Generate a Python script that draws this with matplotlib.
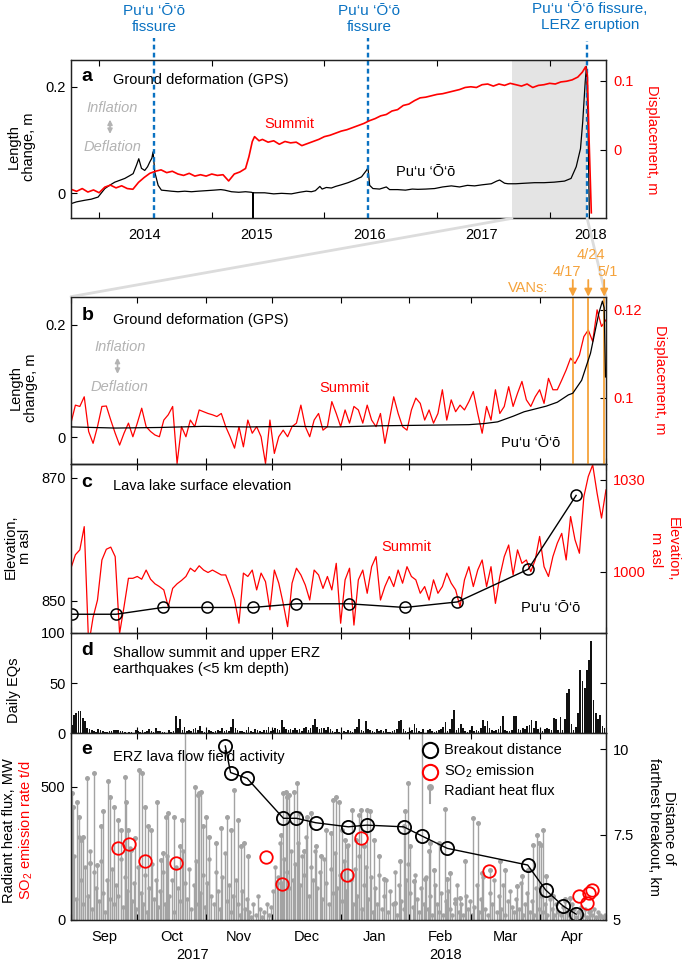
import matplotlib
matplotlib.use('Agg')
import matplotlib.pyplot as plt
from matplotlib.patches import ConnectionPatch

plt.rcParams['font.family'] = ['Liberation Sans', 'DejaVu Sans']
plt.rcParams['mathtext.fontset'] = 'custom'
plt.rcParams['mathtext.rm'] = 'Liberation Sans'
plt.rcParams['mathtext.it'] = 'Liberation Sans:italic'
plt.rcParams['font.size'] = 10.5

PUU = 'Pu\u2018u \u2018\u014c\u2018\u014d'

# ---- panel a: GPS, decimal years ----
a_puu_year = [2013.749, 2013.80, 2013.873, 2013.93, 2013.991, 2014.051, 2014.10, 2014.139, 2014.19, 2014.228,
              2014.27, 2014.302, 2014.332, 2014.352, 2014.376, 2014.405, 2014.43, 2014.450, 2014.468, 2014.479,
              2014.494, 2014.524, 2014.553, 2014.60, 2014.642, 2014.70, 2014.76, 2014.82, 2014.878, 2014.95,
              2015.02, 2015.08, 2015.115, 2015.175, 2015.24, 2015.30, 2015.352, 2015.365, 2015.367, 2015.369,
              2015.40, 2015.47, 2015.55, 2015.62, 2015.707, 2015.78, 2015.84, 2015.885, 2015.92, 2015.96,
              2015.98, 2016.017, 2016.062, 2016.10, 2016.15, 2016.21, 2016.27, 2016.33, 2016.373, 2016.387,
              2016.402, 2016.431, 2016.49, 2016.55, 2016.579, 2016.65, 2016.72, 2016.78, 2016.83, 2016.90,
              2016.979, 2017.05, 2017.127, 2017.20, 2017.27, 2017.334, 2017.40, 2017.482, 2017.53, 2017.556,
              2017.60, 2017.63, 2017.70, 2017.78, 2017.866, 2017.95, 2018.04, 2018.132, 2018.19, 2018.236,
              2018.274, 2018.294, 2018.316, 2018.327, 2018.339, 2018.354]
a_puu_m = [-0.0195, -0.016, -0.013, -0.011, -0.007, 0.009, 0.016, 0.021, 0.025, 0.028,
           0.033, 0.037, 0.053, 0.065, 0.047, 0.043, 0.050, 0.059, 0.066, 0.078,
           0.040, 0.015, 0.006, 0.005, 0.004, 0.003, 0.004, 0.003, 0.004, 0.005,
           0.006, 0.007, 0.006, 0.003, 0.002, 0.003, 0.002, 0.001, -0.055, 0.001,
           0.001, 0.001, -0.001, 0.000, -0.001, 0.002, 0.004, 0.003, 0.005, 0.013,
           0.008, 0.011, 0.010, 0.013, 0.016, 0.020, 0.025, 0.031, 0.043, 0.048,
           0.015, 0.009, 0.008, 0.012, 0.007, 0.007, 0.006, 0.008, 0.0075, 0.008,
           0.009, 0.012, 0.014, 0.012, 0.015, 0.014, 0.016, 0.018, 0.023, 0.025,
           0.019, 0.018, 0.018, 0.019, 0.020, 0.020, 0.021, 0.023, 0.028, 0.050,
           0.084, 0.135, 0.210, 0.238, 0.147, -0.060]

a_sum_year = [2013.75, 2013.80, 2013.85, 2013.90, 2013.95, 2014.00, 2014.05, 2014.10, 2014.15, 2014.20,
              2014.25, 2014.30, 2014.35, 2014.40, 2014.45, 2014.50, 2014.55, 2014.60, 2014.65, 2014.70,
              2014.75, 2014.80, 2014.85, 2014.90, 2014.95, 2015.00, 2015.05, 2015.10, 2015.15, 2015.20,
              2015.25, 2015.30, 2015.33, 2015.36, 2015.38, 2015.42, 2015.45, 2015.50, 2015.55, 2015.60,
              2015.65, 2015.70, 2015.75, 2015.80, 2015.85, 2015.90, 2015.95, 2016.00, 2016.05, 2016.10,
              2016.15, 2016.20, 2016.25, 2016.30, 2016.35, 2016.40, 2016.45, 2016.50, 2016.55, 2016.60,
              2016.65, 2016.70, 2016.75, 2016.80, 2016.85, 2016.90, 2016.95, 2017.00, 2017.05, 2017.10,
              2017.15, 2017.20, 2017.25, 2017.30, 2017.35, 2017.40, 2017.45, 2017.50, 2017.55, 2017.60,
              2017.65, 2017.70, 2017.75, 2017.80, 2017.85, 2017.90, 2017.95, 2018.00, 2018.05, 2018.10,
              2018.15, 2018.20, 2018.25, 2018.29, 2018.32, 2018.335, 2018.35, 2018.37]
a_sum_m = [-0.057, -0.060, -0.056, -0.061, -0.058, -0.062, -0.054, -0.051, -0.055, -0.052,
           -0.056, -0.057, -0.047, -0.040, -0.034, -0.031, -0.029, -0.033, -0.031, -0.035,
           -0.037, -0.034, -0.038, -0.036, -0.038, -0.035, -0.037, -0.036, -0.045, -0.035,
           -0.032, -0.027, -0.010, 0.012, 0.019, 0.013, 0.015, 0.011, 0.013, 0.008,
           0.012, 0.010, 0.011, 0.006, 0.009, 0.012, 0.015, 0.019, 0.021, 0.024,
           0.027, 0.029, 0.032, 0.035, 0.038, 0.042, 0.045, 0.049, 0.051, 0.056,
           0.058, 0.064, 0.066, 0.071, 0.075, 0.076, 0.078, 0.080, 0.081, 0.083,
           0.085, 0.087, 0.090, 0.091, 0.090, 0.094, 0.095, 0.092, 0.095, 0.093,
           0.096, 0.094, 0.092, 0.095, 0.090, 0.093, 0.094, 0.096, 0.095, 0.098,
           0.099, 0.101, 0.105, 0.112, 0.120, 0.108, 0.016, -0.091]

fissure_year = [2014.485, 2016.385, 2018.333]
fissure_text = [PUU + '\nfissure', PUU + '\nfissure', PUU + ' fissure,\nLERZ eruption']
year_ticks = [2014, 2015, 2016, 2017, 2018]
year_label_pos = [2014.4, 2015.4, 2016.4, 2017.4, 2018.36]
zoom_span = [2017.666, 2018.333]

# ---- panels b-e: days since 1 Sep 2017 ----
month_edges = [0, 30, 61, 91, 122, 153, 181, 212, 242]
month_mid = [15, 45.5, 76, 106.5, 137.5, 167, 196.5, 227]
month_names = ['Sep', 'Oct', 'Nov', 'Dec', 'Jan', 'Feb', 'Mar', 'Apr']
van_day = [227, 234, 241.2]
van_text = ['4/17', '4/24', '5/1']

b_puu_day = [0, 20, 40, 60, 80, 100, 120, 140, 160, 180, 187, 193, 200, 205, 210, 215, 220, 225, 227, 231,
             235, 238.8, 240.4, 241.2, 241.8]
b_puu_m = [0.018, 0.016, 0.017, 0.019, 0.018, 0.019, 0.018, 0.020, 0.021, 0.022, 0.024, 0.027, 0.037, 0.045,
           0.050, 0.055, 0.062, 0.075, 0.078, 0.101, 0.149, 0.221, 0.242, 0.230, 0.107]
b_sum_m = [0.0942, 0.0983, 0.0980, 0.1002, 0.0923, 0.0896, 0.0934, 0.0980, 0.0981, 0.0949,
           0.0919, 0.0892, 0.0919, 0.0942, 0.0911, 0.0942, 0.0976, 0.0934, 0.0923, 0.0915,
           0.0911, 0.0949, 0.0961, 0.0980, 0.0850, 0.0934, 0.0911, 0.0949, 0.0934, 0.0972,
           0.0968, 0.0964, 0.0961, 0.0957, 0.0964, 0.0934, 0.0911, 0.0885, 0.0934, 0.0888,
           0.0949, 0.0919, 0.0934, 0.0911, 0.0850, 0.0949, 0.0873, 0.0911, 0.0926, 0.0911,
           0.0934, 0.0942, 0.0983, 0.0934, 0.0911, 0.0949, 0.0964, 0.0926, 0.0934, 0.0991,
           0.0964, 0.0934, 0.0972, 0.0942, 0.0980, 0.0972, 0.0942, 0.0983, 0.0949, 0.0934,
           0.0964, 0.0896, 0.0949, 0.1002, 0.0964, 0.0934, 0.0926, 0.0972, 0.0999, 0.0987,
           0.0949, 0.0972, 0.0942, 0.0964, 0.1018, 0.0949, 0.0995, 0.0968, 0.0983, 0.0972,
           0.0991, 0.1014, 0.0964, 0.0919, 0.0980, 0.0949, 0.1018, 0.0964, 0.0980, 0.1025,
           0.0980, 0.1010, 0.1037, 0.0995, 0.0980, 0.1002, 0.1018, 0.0987, 0.1044, 0.1018,
           0.1018, 0.1040, 0.1063, 0.1090, 0.1078, 0.1097, 0.1139, 0.1154, 0.1128, 0.1200,
           0.1162, 0.1177]

c_puu_day = [0.6, 20.4, 41.5, 61.5, 82.2, 102, 125.7, 151, 174.8, 206.8, 228.5]
c_puu_m = [847.8, 847.8, 848.9, 848.9, 848.9, 849.5, 849.5, 848.9, 849.8, 855.1, 867.1]
c_sum_m = [1001.1, 1005.5, 1007.1, 1014.7, 976.0, 985.0, 990.7, 1003.8, 1007.3, 1008.0,
           1004.9, 979.8, 988.5, 997.8, 997.8, 998.4, 997.5, 1000.5, 997.5, 996.0,
           995.1, 994.0, 988.5, 994.5, 996.0, 997.1, 998.4, 1001.1, 1000.0, 1001.9,
           1000.5, 999.7, 1000.5, 999.7, 998.9, 998.9, 995.1, 990.7, 983.1, 999.5,
           998.4, 1000.5, 994.0, 999.5, 996.7, 987.5, 1000.5, 996.2, 989.6, 982.0,
           996.2, 1001.1, 998.9, 995.6, 990.7, 1000.5, 998.9, 994.5, 998.4, 994.0,
           1002.7, 983.1, 997.3, 1001.1, 982.5, 997.3, 1000.5, 992.9, 1001.6, 1004.9,
           990.7, 995.1, 998.4, 995.1, 1000.5, 996.2, 1001.6, 998.4, 997.3, 992.9,
           995.1, 990.7, 997.3, 992.9, 995.1, 999.5, 996.2, 994.0, 988.5, 997.3,
           1001.6, 995.1, 1000.5, 1003.8, 995.1, 1001.6, 989.6, 998.4, 1004.9, 1008.7,
           998.9, 1007.1, 1002.7, 1003.8, 1000.0, 1003.8, 1011.5, 1001.6, 998.4, 1004.9,
           1009.3, 1012.5, 1003.8, 1018.0, 1010.4, 1006.0, 1024.5, 1031.1, 1034.9, 1025.6,
           1017.5, 1026.7]

daily_eq = [8, 18, 20, 22, 22, 15, 12, 5, 4, 3, 2, 1, 4, 3, 2, 1, 1, 2, 2, 3,
            3, 3, 2, 2, 1, 0, 1, 1, 0, 3, 2, 1, 3, 1, 2, 4, 2, 1, 5, 2,
            2, 1, 1, 0, 3, 1, 2, 17, 5, 14, 3, 6, 2, 3, 2, 4, 5, 3, 7, 2,
            1, 0, 3, 2, 1, 2, 3, 2, 5, 2, 3, 2, 6, 14, 5, 3, 2, 2, 1, 3,
            6, 2, 1, 4, 3, 2, 1, 3, 3, 6, 2, 3, 5, 4, 3, 13, 6, 4, 3, 4,
            3, 5, 3, 4, 2, 5, 6, 3, 5, 8, 14, 6, 4, 5, 5, 3, 6, 4, 2, 1,
            4, 1, 3, 2, 1, 3, 2, 1, 4, 6, 14, 3, 2, 12, 4, 3, 2, 1, 4, 2,
            3, 2, 4, 1, 1, 2, 3, 4, 12, 13, 4, 2, 1, 2, 3, 9, 5, 2, 1, 4,
            0, 3, 4, 2, 1, 2, 3, 4, 6, 11, 2, 4, 14, 23, 3, 5, 9, 5, 2, 1,
            3, 7, 2, 3, 2, 5, 13, 7, 12, 5, 3, 2, 3, 4, 7, 17, 3, 2, 2, 3,
            17, 17, 4, 3, 5, 4, 7, 8, 13, 5, 12, 4, 3, 2, 4, 5, 4, 3, 15, 14,
            3, 16, 3, 14, 40, 44, 9, 3, 6, 20, 63, 52, 45, 63, 73, 92, 33, 20, 14, 18,
            7, 5]

heat_daily_mw = [120, 240, 80, 310, 150, 60, 200, 90, 260, 40, 180, 120, 70, 220, 100, 30, 150, 80, 190, 60,
                 130, 90, 230, 50, 160, 110, 270, 70, 140, 40, 200, 100, 60, 170, 30, 120, 210, 80, 150, 50,
                 110, 180, 60, 240, 90, 150, 30, 200, 120, 70, 260, 140, 80, 190, 40, 130, 220, 60, 100, 170,
                 50, 140, 230, 90, 60, 180, 110, 40, 160, 250, 70, 130, 30, 90, 150, 60, 20, 110, 40, 80,
                 30, 10, 60, 20, 90, 40, 10, 30, 60, 20, 50, 110, 200, 160, 290, 140, 230, 180, 120, 260,
                 150, 210, 290, 130, 240, 170, 310, 90, 200, 150, 260, 120, 180, 80, 230, 140, 60, 190, 100, 250,
                 120, 170, 70, 220, 110, 280, 150, 60, 190, 90, 240, 40, 130, 200, 80, 160, 30, 120, 60, 170,
                 40, 90, 150, 30, 110, 60, 180, 20, 130, 70, 40, 150, 210, 100, 50, 170, 80, 30, 120, 60,
                 160, 40, 90, 20, 130, 60, 30, 100, 20, 70, 110, 40, 20, 80, 130, 30, 60, 20, 90, 40,
                 70, 20, 50, 130, 30, 80, 160, 40, 20, 100, 60, 150, 30, 90, 40, 130, 20, 70, 110, 50,
                 30, 80, 40, 140, 20, 60, 100, 30, 70, 20, 120, 40, 90, 30, 60, 20, 80, 40, 20, 60,
                 30, 20, 50, 70, 30, 20, 60, 40, 10, 30, 50, 20, 40, 10, 30, 20, 40, 10, 30, 20,
                 10, 20]
heat_peak_day = [0.3, 1.1, 2.6, 3.6, 4.5, 5.6, 7.2, 8.6, 10.4, 11.9, 13.8, 14.6, 16.8, 17.6, 19.5, 21.3,
                 22.8, 24.3, 25.1, 25.8, 27.3, 28.8, 30.6, 32.1, 33.3, 34.8, 36.3, 39.0, 40.8, 41.6, 43.1,
                 43.8, 46.8, 49.1, 50.2, 51.4, 55.9, 57.4, 58.1, 58.9, 59.6, 61.1, 62.6, 65.6, 67.9, 70.4,
                 72.4, 73.9, 75.4, 76.9, 78.4, 80.2, 93.4, 94.9, 96.1, 97.1, 97.9, 98.6, 100.9, 102.4, 103.2,
                 105.4, 106.9, 108.4, 110.7, 112.9, 115.2, 117.4, 118.6, 119.7, 121.2, 122.7, 124.0, 125.0,
                 127.3, 128.8, 130.3, 131.0, 132.5, 134.0, 135.2, 137.0, 139.3, 141.5, 146.8, 149.0, 150.5,
                 151.3, 152.3, 153.5, 155.0, 158.8, 160.3, 161.8, 162.5, 164.0, 166.3, 169.0, 170.0, 171.6,
                 173.8, 176.0, 178.3, 181.8, 184.3, 185.8, 189.6, 194.0, 196.3, 201.6, 203.8, 206.8, 209.0,
                 210.9, 211.8, 212.8, 213.6, 215.1, 218.1, 223.4, 225.9, 230.1, 234.6, 239.1]
heat_peak_mw = [475, 423, 444, 388, 301, 313, 531, 214, 552, 208, 351, 407, 522, 463, 423, 376,
                338, 537, 444, 338, 264, 307, 562, 552, 425, 351, 338, 444, 226, 251, 388,
                400, 388, 276, 376, 760, 500, 469, 475, 481, 351, 388, 313, 289, 345, 388,
                338, 487, 376, 276, 289, 239, 139, 320, 475, 481, 463, 469, 481, 512, 400,
                257, 388, 400, 276, 239, 338, 326, 450, 463, 444, 338, 301, 276,
                413, 301, 394, 413, 276, 413, 407, 301, 239, 152, 65, 220, 351,
                407, 512, 276, 146, 760, 152, 257, 289, 189, 289, 415, 152, 177,
                65, 83, 220, 382, 363, 177, 189, 220, 189, 127, 164, 189, 282,
                320, 289, 282, 338, 164, 90, 77, 83, 34, 34, 15]
so2_day = [21.4, 26.3, 33.6, 47.5, 88.2, 95.5, 124.8, 131.1, 189, 230, 233.5, 234.5, 235.8]
so2_td = [269, 285, 222, 215, 237, 135, 169, 306, 184, 90, 65, 102, 112]
breakout_day = [69.8, 72.2, 79.7, 96.1, 102, 110.7, 125.5, 133.7, 150.5, 158.8, 170.2, 206.6, 214.7, 222.6, 228.5]
breakout_km = [10.10, 9.32, 9.15, 7.98, 7.98, 7.85, 7.73, 7.78, 7.73, 7.46, 7.10, 6.61, 5.88, 5.41, 5.17]

RED = 'red'
BLUE = '#0a72c2'
ORANGE = '#f5a23a'
LGRAY = '#b3b3b3'
HGRAY = '#a3a3a3'


def style(ax, right=True):
    ax.tick_params(direction='in', top=True, right=right, length=4, width=0.8, labelsize=10.5)
    ax.tick_params(axis='y', pad=4)
    for s in ax.spines.values():
        s.set_linewidth(0.9)
        s.set_color('#222222')


def month_axis(ax, labels=False):
    ax.set_xlim(0, 242)
    ax.set_xticks(month_edges)
    ax.set_xticklabels([])
    if labels:
        ax.set_xticks(month_mid, minor=True)
        ax.set_xticklabels(month_names, minor=True)
        ax.tick_params(axis='x', which='minor', length=0, pad=7, labelsize=10.5)


def infl_defl(ax, x, y_inf, y_arrow_top, y_arrow_bot, y_def):
    ax.text(x, y_inf, 'Inflation', transform=ax.transAxes, ha='center', va='center',
            style='italic', color=LGRAY, fontsize=10.5)
    ax.annotate('', xy=(x - 0.004, y_arrow_top), xytext=(x - 0.004, y_arrow_bot), xycoords='axes fraction',
                arrowprops=dict(arrowstyle='<|-|>', color=LGRAY, lw=1.2, mutation_scale=7))
    ax.text(x, y_def, 'Deflation', transform=ax.transAxes, ha='center', va='center',
            style='italic', color=LGRAY, fontsize=10.5)


fig = plt.figure(figsize=(6.85, 9.61), dpi=100)
L, W = 0.1036, 0.781
ax_a = fig.add_axes([L, 0.7728, W, 0.165])
ax_b = fig.add_axes([L, 0.5172, W, 0.1741])
ax_c = fig.add_axes([L, 0.3416, W, 0.1756])
ax_d = fig.add_axes([L, 0.2369, W, 0.1047])
ax_e = fig.add_axes([L, 0.0427, W, 0.1942])

# ---------------- a ----------------
ax_a2 = ax_a.twinx()
ax_a.axvspan(zoom_span[0], zoom_span[1], color='#e4e4e4', lw=0, zorder=0)
ax_a.plot(a_puu_year, a_puu_m, color='k', lw=0.9)
ax_a2.plot(a_sum_year, a_sum_m, color=RED, lw=1.2)
ax_a.set_xlim(2013.75, 2018.50)
ax_a.set_ylim(-0.047, 0.251)
ax_a2.set_ylim(-0.099, 0.130)
ax_a.set_yticks([0, 0.2])
ax_a.set_yticklabels(['0', '0.2'])
ax_a2.set_yticks([0, 0.1])
ax_a2.set_yticklabels(['0', '0.1'])
ax_a.set_xticks(year_ticks)
ax_a.set_xticklabels([])
ax_a.set_xticks(year_label_pos, minor=True)
ax_a.set_xticklabels([str(y) for y in year_ticks], minor=True)
ax_a.tick_params(axis='x', which='minor', length=0, pad=7)
style(ax_a, right=False)
style(ax_a2)
ax_a2.tick_params(axis='y', labelcolor=RED, pad=5)
for x, t, top in zip(fissure_year, fissure_text, [1.135, 1.135, 1.12]):
    ax_a.axvline(x, ymin=0, ymax=top, clip_on=False, color=BLUE, lw=1.7, ls=(0, (2, 1.4)), zorder=5)
fig.text(154 / 685, 1 - 19 / 961, fissure_text[0], color=BLUE, fontsize=11, ha='center', va='center',
         linespacing=1.15)
fig.text(369 / 685, 1 - 19 / 961, fissure_text[1], color=BLUE, fontsize=11, ha='center', va='center',
         linespacing=1.15)
fig.text(590 / 685, 1 - 17 / 961, fissure_text[2], color=BLUE, fontsize=11, ha='center', va='center',
         linespacing=1.15)
ax_a.text(0.02, 0.893, 'a', transform=ax_a.transAxes, fontsize=14, fontweight='bold', va='center')
ax_a.text(0.078, 0.872, 'Ground deformation (GPS)', transform=ax_a.transAxes, va='center')
infl_defl(ax_a, 0.077, 0.697, 0.64, 0.515, 0.451)
ax_a.text(0.409, 0.592, 'Summit', transform=ax_a.transAxes, color=RED, ha='center', va='center')
ax_a.text(0.663, 0.29, PUU, transform=ax_a.transAxes, ha='center', va='center')

# ---------------- b ----------------
days2 = list(range(0, 243, 2))
ax_b2 = ax_b.twinx()
for d in van_day:
    ax_b.axvline(d, color=ORANGE, lw=1.3, zorder=1)
ax_b2.plot(days2, b_sum_m, color=RED, lw=0.9)
ax_b.plot(b_puu_day, b_puu_m, color='k', lw=0.9, zorder=3)
ax_b.set_zorder(ax_b2.get_zorder() + 1)
ax_b.patch.set_visible(False)
ax_b.set_ylim(-0.048, 0.25)
ax_b2.set_ylim(0.0849, 0.123)
ax_b.set_yticks([0, 0.2])
ax_b.set_yticklabels(['0', '0.2'])
ax_b2.set_yticks([0.1, 0.12])
ax_b2.set_yticklabels(['0.1', '0.12'])
month_axis(ax_b)
style(ax_b, right=False)
style(ax_b2)
ax_b2.tick_params(axis='y', labelcolor=RED, pad=5)
for d in van_day:
    ax_b.annotate('', xy=(d, 1.0), xycoords=('data', 'axes fraction'), xytext=(d, 1.10),
                  textcoords=('data', 'axes fraction'), annotation_clip=False,
                  arrowprops=dict(arrowstyle='-|>', color=ORANGE, lw=1.3, mutation_scale=11,
                                  shrinkA=0, shrinkB=0))
trans_b = ax_b.get_xaxis_transform()
ax_b.text(224.4, 1.148, van_text[0], transform=trans_b, color=ORANGE, ha='center', va='center')
ax_b.text(235.0, 1.249, van_text[1], transform=trans_b, color=ORANGE, ha='center', va='center')
ax_b.text(242.8, 1.148, van_text[2], transform=trans_b, color=ORANGE, ha='center', va='center')
ax_b.text(206.7, 1.052, 'VANs:', transform=trans_b, color=ORANGE, ha='center', va='center')
ax_b.text(0.02, 0.885, 'b', transform=ax_b.transAxes, fontsize=14, fontweight='bold', va='center')
ax_b.text(0.079, 0.861, 'Ground deformation (GPS)', transform=ax_b.transAxes, va='center')
infl_defl(ax_b, 0.091, 0.70, 0.651, 0.522, 0.458)
ax_b.text(0.511, 0.452, 'Summit', transform=ax_b.transAxes, color=RED, ha='center', va='center')
ax_b.text(0.859, 0.124, PUU, transform=ax_b.transAxes, ha='center', va='center')

# connectors from the shaded span in a to panel b
for xa, xb in [(zoom_span[0], 0), (zoom_span[1], 1)]:
    con = ConnectionPatch(xyA=(xa, -0.047), coordsA='data', axesA=ax_a,
                          xyB=(xb, 1), coordsB='axes fraction', axesB=ax_b,
                          color='#dcdcdc', lw=2)
    fig.add_artist(con)

# ---------------- c ----------------
ax_c2 = ax_c.twinx()
ax_c2.plot(days2, c_sum_m, color=RED, lw=0.9)
ax_c.plot(c_puu_day, c_puu_m, color='k', lw=1.0, marker='o', ms=8, mfc='none', mec='k', mew=1.1)
ax_c.set_zorder(ax_c2.get_zorder() + 1)
ax_c.patch.set_visible(False)
ax_c.set_ylim(844.8, 872.2)
ax_c2.set_ylim(980, 1035.2)
ax_c.set_yticks([850, 870])
ax_c2.set_yticks([1000, 1030])
month_axis(ax_c)
style(ax_c, right=False)
style(ax_c2)
ax_c2.tick_params(axis='y', labelcolor=RED, pad=5)
ax_c.text(0.02, 0.889, 'c', transform=ax_c.transAxes, fontsize=14, fontweight='bold', va='center')
ax_c.text(0.079, 0.869, 'Lava lake surface elevation', transform=ax_c.transAxes, va='center')
ax_c.text(0.627, 0.51, 'Summit', transform=ax_c.transAxes, color=RED, ha='center', va='center')
ax_c.text(0.896, 0.145, PUU, transform=ax_c.transAxes, ha='center', va='center')

# ---------------- d ----------------
ax_d.bar(range(len(daily_eq)), daily_eq, width=0.75, color='#111111', align='edge')
ax_d.set_ylim(0, 100)
ax_d.set_yticks([0, 50, 100])
month_axis(ax_d)
style(ax_d)
ax_d.text(0.02, 0.828, 'd', transform=ax_d.transAxes, fontsize=14, fontweight='bold', va='center')
ax_d.text(0.078, 0.718, 'Shallow summit and upper ERZ\nearthquakes (<5 km depth)',
          transform=ax_d.transAxes, va='center', linespacing=1.25)

# ---------------- e ----------------
ax_e2 = ax_e.twinx()
mass_day = [d + 0.5 for d in range(len(heat_daily_mw))]
ax_e.vlines(mass_day, 0, heat_daily_mw, color=HGRAY, lw=1.0, zorder=1)
ax_e.plot(mass_day, heat_daily_mw, 'o', color=HGRAY, ms=3.2, mew=0, zorder=1)
ax_e.vlines(heat_peak_day, 0, heat_peak_mw, color=HGRAY, lw=1.0, zorder=1)
ax_e.plot(heat_peak_day, heat_peak_mw, 'o', color=HGRAY, ms=3.6, mew=0, zorder=1)
ax_e.plot(so2_day, so2_td, 'o', ms=9, mfc='none', mec=RED, mew=1.3, zorder=3)
ax_e2.plot(breakout_day, breakout_km, color='k', lw=1.0, marker='o', ms=9.5, mfc='none', mec='k', mew=1.3)
ax_e.set_ylim(0, 700)
ax_e2.set_ylim(5, 10.47)
ax_e.set_yticks([0, 500])
ax_e2.set_yticks([5, 7.5, 10])
ax_e2.set_yticklabels(['5', '7.5', '10'])
month_axis(ax_e, labels=True)
style(ax_e, right=False)
style(ax_e2)
ax_e2.tick_params(axis='y', pad=5)
trans_e = ax_e.get_xaxis_transform()
ax_e.text(55, -0.19, '2017', transform=trans_e, ha='center', va='center')
ax_e.text(169.6, -0.19, '2018', transform=trans_e, ha='center', va='center')
ax_e.text(0.02, 0.911, 'e', transform=ax_e.transAxes, fontsize=14, fontweight='bold', va='center')
ax_e.text(0.078, 0.875, 'ERZ lava flow field activity', transform=ax_e.transAxes, va='center')

# legend drawn by hand
lx, tx = 0.672, 0.698
ax_e.plot([lx], [0.911], 'o', transform=ax_e.transAxes, ms=11, mfc='none', mec='k', mew=1.5, clip_on=False)
ax_e.plot([lx], [0.794], 'o', transform=ax_e.transAxes, ms=11, mfc='none', mec=RED, mew=1.5, clip_on=False)
ax_e.plot([lx, lx], [0.712, 0.627], transform=ax_e.transAxes, color=HGRAY, lw=1.5)
ax_e.plot([lx], [0.712], 'o', transform=ax_e.transAxes, ms=5, color=HGRAY, mew=0)
ax_e.text(tx, 0.911, 'Breakout distance', transform=ax_e.transAxes, va='center')
ax_e.text(tx, 0.794, 'SO$_2$ emission', transform=ax_e.transAxes, va='center')
ax_e.text(tx, 0.69, 'Radiant heat flux', transform=ax_e.transAxes, va='center')

# ---------------- axis titles ----------------
fig.text(0.031, 0.847, 'Length\nchange, m', rotation=90, ha='center', va='center', linespacing=1.1)
fig.text(0.952, 0.855, 'Displacement, m', rotation=270, ha='center', va='center', color=RED)
fig.text(0.034, 0.597, 'Length\nchange, m', rotation=90, ha='center', va='center', linespacing=1.1)
fig.text(0.963, 0.605, 'Displacement, m', rotation=270, ha='center', va='center', color=RED)
fig.text(0.026, 0.431, 'Elevation,\nm asl', rotation=90, ha='center', va='center', linespacing=1.1)
fig.text(0.970, 0.428, 'Elevation,\nm asl', rotation=270, ha='center', va='center', color=RED,
         linespacing=1.2)
fig.text(0.02, 0.282, 'Daily EQs', rotation=90, ha='center', va='center')
fig.text(0.013, 0.136, 'Radiant heat flux, MW', rotation=90, ha='center', va='center')
fig.text(0.038, 0.136, 'SO$_2$ emission rate t/d', rotation=90, ha='center', va='center', color=RED)
fig.text(0.966, 0.139, 'Distance of\nfarthest breakout, km', rotation=270, ha='center', va='center',
         linespacing=1.1)

fig.savefig('out.png', dpi=100)
